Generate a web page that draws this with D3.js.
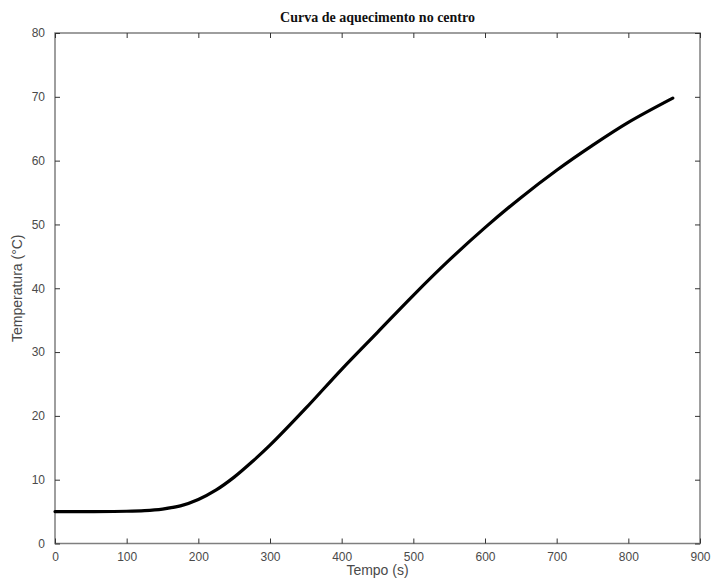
<!DOCTYPE html>
<html>
<head>
<meta charset="utf-8">
<script src="https://cdn.jsdelivr.net/npm/d3@7"></script>
<style>
  body { margin: 0; background: #fff; }
  text { font-family: "Liberation Sans", Arial, sans-serif; }
</style>
</head>
<body>
<svg id="chart" width="714" height="579"></svg>
<script>
// tempo (s) e temperatura no centro (°C)
var tempo = [0, 50, 100, 125, 150, 175, 200, 225, 250, 275, 300, 350, 400, 450, 500, 550, 600, 650, 700, 750, 800, 862];
var temperatura = [5, 5, 5.05, 5.15, 5.4, 5.9, 6.9, 8.4, 10.4, 12.8, 15.4, 21.2, 27.3, 33.1, 38.9, 44.4, 49.5, 54.2, 58.5, 62.4, 66.0, 69.8];
var xTicks = [0, 100, 200, 300, 400, 500, 600, 700, 800, 900];
var yTicks = [0, 10, 20, 30, 40, 50, 60, 70, 80];

var svg = d3.select("#chart");
var plotLeft = 55, plotRight = 700, plotTop = 33, plotBottom = 543.5;

var xScale = d3.scaleLinear().domain([0, 900]).range([plotLeft, plotRight]);
var yScale = d3.scaleLinear().domain([0, 80]).range([plotBottom, plotTop]);

var axisColor = "#7f7f7f";
var labelColor = "#4a4a4a";

// caixa
svg.append("rect")
    .attr("x", plotLeft).attr("y", plotTop)
    .attr("width", plotRight - plotLeft).attr("height", plotBottom - plotTop)
    .attr("fill", "none")
    .attr("stroke", axisColor)
    .attr("stroke-width", 1.5);

// eixos com ticks para dentro
svg.append("g")
    .attr("transform", "translate(0," + plotBottom + ")")
    .call(d3.axisBottom(xScale).tickValues(xTicks).tickSizeInner(-5).tickSizeOuter(0).tickPadding(9))
    .call(g => g.select(".domain").remove());

svg.append("g")
    .attr("transform", "translate(0," + plotTop + ")")
    .call(d3.axisTop(xScale).tickValues(xTicks).tickSizeInner(-5).tickSizeOuter(0).tickFormat(""))
    .call(g => g.select(".domain").remove());

svg.append("g")
    .attr("transform", "translate(" + plotLeft + ",0)")
    .call(d3.axisLeft(yScale).tickValues(yTicks).tickSizeInner(-5).tickSizeOuter(0).tickPadding(10))
    .call(g => g.select(".domain").remove());

svg.append("g")
    .attr("transform", "translate(" + plotRight + ",0)")
    .call(d3.axisRight(yScale).tickValues(yTicks).tickSizeInner(-5).tickSizeOuter(0).tickFormat(""))
    .call(g => g.select(".domain").remove());

svg.selectAll(".tick line").attr("stroke", "#333").attr("stroke-width", 1);
svg.selectAll(".tick text")
    .attr("fill", labelColor)
    .style("font-size", "12px")
    .style("font-family", "'Liberation Sans', Arial, sans-serif");

// curva
var pontos = tempo.map((t, i) => [t, temperatura[i]]);
var line = d3.line()
    .x(d => xScale(d[0]))
    .y(d => yScale(d[1]))
    .curve(d3.curveCatmullRom.alpha(0.5));

svg.append("path")
    .datum(pontos)
    .attr("d", line)
    .attr("fill", "none")
    .attr("stroke", "#000")
    .attr("stroke-width", 3.2)
    .attr("stroke-linecap", "round");

// textos
svg.append("text")
    .attr("x", (plotLeft + plotRight) / 2)
    .attr("y", 22)
    .attr("text-anchor", "middle")
    .style("font-family", "'Liberation Serif', 'Times New Roman', serif")
    .style("font-weight", "bold")
    .style("font-size", "14px")
    .attr("fill", "#111")
    .text("Curva de aquecimento no centro");

svg.append("text")
    .attr("x", (plotLeft + plotRight) / 2)
    .attr("y", 575)
    .attr("text-anchor", "middle")
    .style("font-size", "14px")
    .attr("fill", labelColor)
    .text("Tempo (s)");

svg.append("text")
    .attr("transform", "translate(22," + ((plotTop + plotBottom) / 2) + ") rotate(-90)")
    .attr("text-anchor", "middle")
    .style("font-size", "14px")
    .attr("fill", labelColor)
    .text("Temperatura (°C)");
</script>
</body>
</html>
